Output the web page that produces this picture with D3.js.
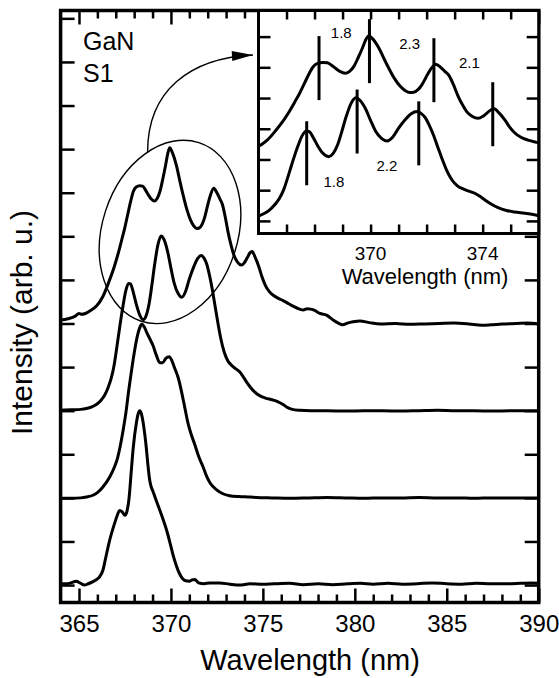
<!DOCTYPE html>
<html>
<head>
<meta charset="utf-8">
<script src="https://cdn.jsdelivr.net/npm/d3@7"></script>
<style>
  html, body { margin: 0; padding: 0; background: #fff; }
  svg text { font-family: "Liberation Sans", Arial, Helvetica, sans-serif; fill: #000; }
</style>
</head>
<body>
<svg id="chart" width="559" height="678"></svg>
<script>
// ---- data -------------------------------------------------------------
const majorWavelengths = [365, 370, 375, 380, 385, 390];
const insetWavelengthLabels = [370, 374];
const sampleName = ["GaN", "S1"];
const xTitle = "Wavelength (nm)";
const yTitle = "Intensity (arb. u.)";

// vertical offsets of the stacked spectra (top to bottom)
const offsets = [6, 4, 2, 0];

// [wavelength (nm), intensity above its own baseline]
const spectrum1 = [[364.0,0.08],[364.4,0.11],[364.8,0.17],[365.0,0.23],[365.15,0.21],[365.35,0.23],[365.6,0.29],[365.95,0.40],[366.3,0.62],[366.63,0.96],[366.9,1.28],[367.1,1.56],[367.3,1.88],[367.46,2.14],[367.65,2.50],[367.81,2.80],[367.95,3.02],[368.11,3.13],[368.3,3.16],[368.46,3.15],[368.62,3.06],[368.76,2.96],[368.92,2.86],[369.09,2.81],[369.25,2.87],[369.41,3.04],[369.56,3.32],[369.71,3.63],[369.84,3.92],[369.94,4.03],[370.05,3.95],[370.30,3.62],[370.48,3.28],[370.65,2.97],[370.85,2.64],[371.05,2.39],[371.24,2.24],[371.4,2.18],[371.54,2.19],[371.7,2.28],[371.83,2.43],[371.98,2.68],[372.13,2.92],[372.33,3.10],[372.5,3.00],[372.66,2.86],[372.8,2.73],[372.95,2.45],[373.13,2.05],[373.28,1.78],[373.43,1.56],[373.62,1.41],[373.84,1.34],[374.0,1.40],[374.14,1.50],[374.3,1.62],[374.41,1.65],[374.6,1.50],[374.79,1.29],[374.95,1.07],[375.14,0.87],[375.35,0.73],[375.62,0.63],[375.97,0.55],[376.3,0.48],[376.64,0.40],[377.0,0.33],[377.2,0.31],[377.4,0.34],[377.6,0.33],[377.82,0.30],[378.1,0.23],[378.46,0.19],[378.82,0.08],[379.1,0.01],[379.34,-0.03],[379.6,0.01],[379.9,0.04],[380.27,0.06],[380.8,0.02],[381.4,-0.01],[382.2,0.0],[383.0,-0.02],[383.8,-0.01],[384.6,0.0],[385.4,0.01],[386.2,-0.01],[386.9,-0.04],[387.4,-0.03],[388.0,-0.01],[388.8,0.0],[389.4,0.01],[390.0,-0.01]];

const spectrum2 = [[364.0,0.01],[364.6,0.02],[365.1,0.03],[365.4,0.05],[365.7,0.09],[366.0,0.16],[366.2,0.24],[366.4,0.36],[366.6,0.55],[366.75,0.74],[366.9,1.02],[367.1,1.58],[367.25,2.02],[367.4,2.42],[367.55,2.76],[367.7,2.92],[367.8,2.91],[367.95,2.72],[368.11,2.45],[368.3,2.20],[368.5,2.09],[368.66,2.19],[368.82,2.47],[368.97,2.90],[369.11,3.34],[369.3,3.82],[369.47,4.01],[369.62,3.93],[369.82,3.65],[370.0,3.27],[370.18,2.92],[370.4,2.68],[370.59,2.60],[370.8,2.74],[371.0,3.02],[371.24,3.30],[371.45,3.49],[371.66,3.56],[371.8,3.50],[371.95,3.36],[372.1,3.10],[372.25,2.78],[372.4,2.40],[372.54,2.05],[372.7,1.68],[372.9,1.34],[373.1,1.14],[373.3,1.04],[373.5,0.97],[373.72,0.90],[373.9,0.80],[374.08,0.68],[374.3,0.55],[374.55,0.43],[374.85,0.34],[375.14,0.29],[375.5,0.25],[375.8,0.21],[376.1,0.14],[376.35,0.07],[376.6,0.03],[377.0,0.01],[377.6,0.0],[378.5,0.0],[379.5,-0.01],[380.5,0.0],[381.5,0.0],[382.5,-0.01],[383.5,0.0],[384.5,0.01],[385.5,0.0],[386.5,0.0],[387.5,-0.01],[388.5,0.0],[389.5,0.0],[390.0,0.0]];

const spectrum3 = [[364.0,-0.01],[364.6,-0.01],[365.1,0.0],[365.4,0.02],[365.76,0.06],[366.0,0.12],[366.3,0.25],[366.67,0.48],[366.94,0.72],[367.1,0.92],[367.25,1.20],[367.4,1.55],[367.55,1.95],[367.7,2.45],[367.85,2.90],[368.03,3.39],[368.18,3.72],[368.30,3.90],[368.42,3.98],[368.55,3.92],[368.7,3.78],[368.85,3.65],[369.02,3.50],[369.2,3.28],[369.4,3.10],[369.55,3.10],[369.72,3.20],[369.9,3.24],[370.05,3.15],[370.2,2.98],[370.4,2.75],[370.57,2.45],[370.75,2.08],[370.93,1.71],[371.1,1.46],[371.3,1.22],[371.5,0.96],[371.74,0.72],[371.95,0.49],[372.15,0.33],[372.47,0.19],[372.8,0.10],[373.19,0.05],[373.7,0.03],[374.2,0.02],[374.65,0.01],[375.5,0.0],[376.5,-0.01],[377.5,0.0],[378.5,0.01],[379.5,0.0],[380.5,-0.01],[381.5,0.0],[382.5,0.0],[383.5,0.01],[384.5,0.0],[385.5,0.0],[386.5,-0.01],[387.5,0.0],[388.5,0.0],[389.5,0.0],[390.0,0.0]];

const spectrum4 = [[364.0,0.03],[364.3,0.03],[364.55,0.05],[364.85,0.09],[365.05,0.05],[365.3,0.0],[365.5,0.03],[365.76,0.08],[366.0,0.14],[366.12,0.19],[366.3,0.34],[366.45,0.62],[366.67,1.03],[366.94,1.42],[367.1,1.62],[367.2,1.71],[367.35,1.68],[367.5,1.60],[367.6,1.68],[367.72,1.98],[367.85,2.65],[367.95,3.15],[368.12,3.72],[368.22,3.93],[368.30,4.0],[368.4,3.92],[368.48,3.75],[368.58,3.45],[368.66,3.15],[368.75,2.75],[368.84,2.42],[368.93,2.25],[369.02,2.15],[369.2,1.94],[369.39,1.72],[369.58,1.50],[369.75,1.28],[369.95,0.97],[370.11,0.70],[370.3,0.44],[370.47,0.26],[370.65,0.14],[370.8,0.10],[371.0,0.09],[371.15,0.12],[371.3,0.13],[371.5,0.05],[371.8,0.03],[372.1,0.05],[372.65,0.05],[373.2,0.02],[373.74,0.0],[374.3,0.03],[375.0,0.02],[375.6,0.03],[376.46,0.04],[377.2,0.01],[378.0,0.03],[378.8,0.01],[379.6,0.03],[380.3,0.04],[381.0,0.02],[381.8,0.04],[382.6,0.02],[383.4,0.03],[384.2,0.05],[385.0,0.03],[385.8,0.02],[386.6,0.04],[387.4,0.03],[388.2,0.03],[389.0,0.04],[389.6,0.05],[390.0,0.04]];

// peak positions in the inset: first peak and the spacings (nm) between neighbours
const upperFirstPeak = 368.16;
const upperSpacings = [1.8, 2.3, 2.1];
const lowerFirstPeak = 367.72;
const lowerSpacings = [1.8, 2.2];

// ---- layout -------------------------------------------------------------
const svg = d3.select("#chart");
const frame = { left: 60.6, right: 538.7, top: 10.5, bottom: 602.5 };
const inset = { left: 258.5, right: 538.7, top: 10.5, bottom: 233.5 };

const x = d3.scaleLinear().domain([364, 390]).range([frame.left, frame.right]);
const y = d3.scaleLinear().domain([-0.40, 13.18]).range([frame.bottom, frame.top]);
const xi = d3.scaleLinear().domain([366, 376]).range([inset.left, inset.right]);
const yi = d3.scaleLinear().domain([3.59, 10.85]).range([inset.bottom, inset.top]);

const spectra = [spectrum1, spectrum2, spectrum3, spectrum4];

const defs = svg.append("defs");
defs.append("clipPath").attr("id", "mainClip").append("rect")
  .attr("x", frame.left).attr("y", frame.top)
  .attr("width", frame.right - frame.left).attr("height", frame.bottom - frame.top);
defs.append("clipPath").attr("id", "insetClip").append("rect")
  .attr("x", inset.left).attr("y", inset.top)
  .attr("width", inset.right - inset.left).attr("height", inset.bottom - inset.top);
defs.append("marker").attr("id", "arrowHead")
  .attr("markerUnits", "userSpaceOnUse")
  .attr("viewBox", "-22 -6 23 12").attr("refX", 0).attr("refY", 0)
  .attr("markerWidth", 23).attr("markerHeight", 12).attr("orient", "auto")
  .append("path").attr("d", "M0,0 L-21,-5 L-21,5 Z").attr("fill", "#000");

const lineFor = (xs, ys, off) => d3.line()
  .x(d => xs(d[0])).y(d => ys(d[1] + off))
  .curve(d3.curveMonotoneX);

// ---- main panel: spectra ------------------------------------------------
const mainG = svg.append("g").attr("clip-path", "url(#mainClip)");
spectra.forEach((s, i) => {
  mainG.append("path")
    .attr("d", lineFor(x, y, offsets[i])(s))
    .attr("fill", "none").attr("stroke", "#000")
    .attr("stroke-width", 3).attr("stroke-linejoin", "round");
});

// ellipse around the multi-peak region and the arrow to the inset
const ellipseCenter = [369.95, 8.10];
svg.append("ellipse")
  .attr("transform", `translate(${x(ellipseCenter[0])},${y(ellipseCenter[1])}) rotate(17.9)`)
  .attr("rx", 67.8).attr("ry", 93.8)
  .attr("fill", "none").attr("stroke", "#000").attr("stroke-width", 1.4);

const arrowPts = [[368.73, 9.93], [368.73, 11.35], [371.04, 12.09], [374.46, 12.16]];
const ap = arrowPts.map(p => [x(p[0]), y(p[1])]);
svg.append("path")
  .attr("d", `M${ap[0]} C${ap[1]} ${ap[2]} ${ap[3]}`)
  .attr("fill", "none").attr("stroke", "#000").attr("stroke-width", 1.4)
  .attr("marker-end", "url(#arrowHead)");

// ---- main axes ----------------------------------------------------------
const minorWavelengths = d3.range(365, 390).filter(v => v % 5 !== 0);
const yTickValues = d3.range(0, 14);

function styleTicks(g) {
  g.select(".domain").remove();
  g.selectAll(".tick line").attr("stroke", "#000").attr("stroke-width", 2.5);
}

const bottomMajor = svg.append("g").attr("transform", `translate(0,${frame.bottom})`)
  .call(d3.axisBottom(x).tickValues(majorWavelengths).tickSize(-14).tickSizeOuter(0).tickFormat(d3.format("d")))
  .call(styleTicks);
bottomMajor.selectAll(".tick text")
  .attr("y", 29.5).attr("dy", null)
  .style("font-size", "24px").style("font-family", "'Liberation Sans', Arial, sans-serif");
svg.append("g").attr("transform", `translate(0,${frame.bottom})`)
  .call(d3.axisBottom(x).tickValues(minorWavelengths).tickSize(-8).tickSizeOuter(0).tickFormat(""))
  .call(styleTicks);
svg.append("g").attr("transform", `translate(0,${frame.top})`)
  .call(d3.axisTop(x).tickValues(majorWavelengths).tickSize(-14).tickSizeOuter(0).tickFormat(""))
  .call(styleTicks);
svg.append("g").attr("transform", `translate(0,${frame.top})`)
  .call(d3.axisTop(x).tickValues(minorWavelengths).tickSize(-8).tickSizeOuter(0).tickFormat(""))
  .call(styleTicks);
svg.append("g").attr("transform", `translate(${frame.left},0)`)
  .call(d3.axisLeft(y).tickValues(yTickValues).tickSize(-14).tickSizeOuter(0).tickFormat(""))
  .call(styleTicks);
svg.append("g").attr("transform", `translate(${frame.right},0)`)
  .call(d3.axisRight(y).tickValues(yTickValues).tickSize(-14).tickSizeOuter(0).tickFormat(""))
  .call(styleTicks);

svg.append("rect")
  .attr("x", frame.left).attr("y", frame.top)
  .attr("width", frame.right - frame.left).attr("height", frame.bottom - frame.top)
  .attr("fill", "none").attr("stroke", "#000").attr("stroke-width", 3.5);

// titles
svg.append("text").text(xTitle)
  .attr("x", 310).attr("y", 670).attr("text-anchor", "middle")
  .style("font-size", "29px");
svg.append("text").text(yTitle)
  .attr("transform", "translate(32,322.5) rotate(-90)").attr("text-anchor", "middle")
  .style("font-size", "30px");
svg.append("text").text(sampleName[0]).attr("x", 83).attr("y", 50).style("font-size", "25px");
svg.append("text").text(sampleName[1]).attr("x", 83).attr("y", 82).style("font-size", "25px");

// ---- inset --------------------------------------------------------------
const insetG = svg.append("g");
insetG.append("rect")
  .attr("x", inset.left).attr("y", inset.top)
  .attr("width", inset.right - inset.left).attr("height", inset.bottom - inset.top)
  .attr("fill", "#fff");

const insetCurves = insetG.append("g").attr("clip-path", "url(#insetClip)");
[0, 1].forEach(i => {
  insetCurves.append("path")
    .attr("d", lineFor(xi, yi, offsets[i])(spectra[i]))
    .attr("fill", "none").attr("stroke", "#000")
    .attr("stroke-width", 3).attr("stroke-linejoin", "round");
});

// interpolated intensity of a spectrum at a wavelength
function valueAt(s, w) {
  const j = d3.bisector(d => d[0]).left(s, w);
  if (j <= 0) return s[0][1];
  if (j >= s.length) return s[s.length - 1][1];
  const a = s[j - 1], b = s[j];
  return a[1] + (b[1] - a[1]) * (w - a[0]) / (b[0] - a[0]);
}
const peakPositions = (first, gaps) => gaps.reduce((acc, g) => acc.concat(acc[acc.length - 1] + g), [first]);

const rows = [
  { spec: 0, peaks: peakPositions(upperFirstPeak, upperSpacings), gaps: upperSpacings,
    rise: [27, 17, 28, 27], labels: [{ dx: -3, y: 38 }, { dx: 8, y: 49 }, { dx: 6, y: 68 }] },
  { spec: 1, peaks: peakPositions(lowerFirstPeak, lowerSpacings), gaps: lowerSpacings,
    rise: [10, 9, 11], labels: [{ dx: 2, y: 187 }, { dx: -1, y: 171 }] }
];
const markerLength = 64;
rows.forEach(r => {
  r.peaks.forEach((w, k) => {
    const py = yi(valueAt(spectra[r.spec], w) + offsets[r.spec]);
    insetG.append("line")
      .attr("x1", xi(w)).attr("x2", xi(w))
      .attr("y1", py - r.rise[k]).attr("y2", py - r.rise[k] + markerLength)
      .attr("stroke", "#000").attr("stroke-width", 3);
  });
  r.gaps.forEach((g, k) => {
    const mid = (r.peaks[k] + r.peaks[k + 1]) / 2;
    insetG.append("text").text(d3.format(".1f")(g))
      .attr("x", xi(mid) + r.labels[k].dx).attr("y", r.labels[k].y)
      .attr("text-anchor", "middle").style("font-size", "15px");
  });
});

// inset axes
const insetXTicks = d3.range(367, 376);
const insetYTicks = d3.range(4, 11);
insetG.append("g").attr("transform", `translate(0,${inset.bottom})`)
  .call(d3.axisBottom(xi).tickValues(insetXTicks).tickSize(-9).tickSizeOuter(0).tickFormat(""))
  .call(styleTicks);
insetG.append("g").attr("transform", `translate(0,${inset.top})`)
  .call(d3.axisTop(xi).tickValues(insetXTicks).tickSize(-9).tickSizeOuter(0).tickFormat(""))
  .call(styleTicks);
insetG.append("g").attr("transform", `translate(${inset.left},0)`)
  .call(d3.axisLeft(yi).tickValues(insetYTicks).tickSize(-12).tickSizeOuter(0).tickFormat(""))
  .call(styleTicks);
insetG.append("g").attr("transform", `translate(${inset.right},0)`)
  .call(d3.axisRight(yi).tickValues(insetYTicks).tickSize(-12).tickSizeOuter(0).tickFormat(""))
  .call(styleTicks);

insetG.append("rect")
  .attr("x", inset.left).attr("y", inset.top)
  .attr("width", inset.right - inset.left).attr("height", inset.bottom - inset.top)
  .attr("fill", "none").attr("stroke", "#000").attr("stroke-width", 3);

insetWavelengthLabels.forEach(w => {
  insetG.append("text").text(w)
    .attr("x", xi(w)).attr("y", 260).attr("text-anchor", "middle")
    .style("font-size", "19px");
});
insetG.append("text").text(xTitle)
  .attr("x", 425).attr("y", 284).attr("text-anchor", "middle")
  .style("font-size", "22px");
</script>
</body>
</html>
